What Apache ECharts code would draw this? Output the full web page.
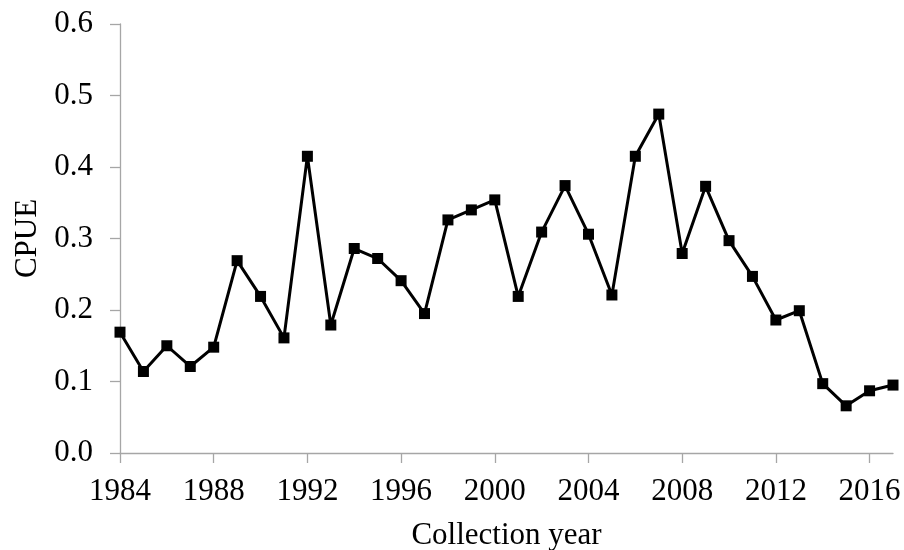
<!DOCTYPE html>
<html>
<head>
<meta charset="utf-8">
<script src="https://cdn.jsdelivr.net/npm/echarts@6/dist/echarts.min.js"></script>
<style>
html,body{margin:0;padding:0;background:#fff;}
#chart{width:904px;height:550px;}
</style>
</head>
<body>
<div id="chart"></div>
<script>
const years = [1984,1985,1986,1987,1988,1989,1990,1991,1992,1993,1994,1995,1996,1997,1998,1999,2000,2001,2002,2003,2004,2005,2006,2007,2008,2009,2010,2011,2012,2013,2014,2015,2016,2017];
const cpue = [0.169,0.114,0.150,0.121,0.148,0.269,0.219,0.161,0.415,0.179,0.286,0.272,0.241,0.195,0.326,0.340,0.354,0.219,0.309,0.374,0.306,0.221,0.415,0.474,0.279,0.373,0.297,0.247,0.186,0.199,0.097,0.066,0.087,0.095];
const xTicks = [1984,1988,1992,1996,2000,2004,2008,2012,2016];
const yTicks = [0,0.1,0.2,0.3,0.4,0.5,0.6];
const xTitle = 'Collection year';
const yTitle = 'CPUE';

const FONT = 'Liberation Serif';
const axisColor = '#a6a6a6';

const chart = echarts.init(document.getElementById('chart'), null, {renderer:'canvas'});
chart.setOption({
  animation:false,
  backgroundColor:'#ffffff',
  grid:{left:120,right:11,top:24,bottom:97,containLabel:false,outerBoundsMode:'none'},
  xAxis:{
    type:'value',
    min:1984,max:2017,interval:4,
    name:xTitle,nameLocation:'middle',nameGap:67,
    nameTextStyle:{fontFamily:FONT,fontSize:31,color:'#000'},
    axisLine:{show:true,onZero:false,lineStyle:{color:axisColor,width:1.3}},
    axisTick:{show:true,inside:false,length:10,customValues:xTicks,lineStyle:{color:axisColor,width:1.3}},
    axisLabel:{customValues:xTicks,margin:23,fontFamily:FONT,fontSize:31,color:'#000',formatter:v=>String(v)},
    splitLine:{show:false}
  },
  yAxis:{
    type:'value',
    min:0,max:0.6,interval:0.1,
    name:yTitle,nameLocation:'middle',nameGap:77,
    nameTextStyle:{fontFamily:FONT,fontSize:31,color:'#000'},
    axisLine:{show:true,lineStyle:{color:axisColor,width:1.3}},
    axisTick:{show:true,inside:false,length:10,customValues:yTicks,lineStyle:{color:axisColor,width:1.3}},
    axisLabel:{margin:27,fontFamily:FONT,fontSize:31,color:'#000',formatter:v=>v.toFixed(1)},
    splitLine:{show:false}
  },
  series:[{
    type:'line',
    data:years.map((y,i)=>[y,cpue[i]]),
    symbol:'rect',symbolSize:11,
    lineStyle:{color:'#000',width:3},
    itemStyle:{color:'#000'},
    clip:false
  }]
});
</script>
</body>
</html>
